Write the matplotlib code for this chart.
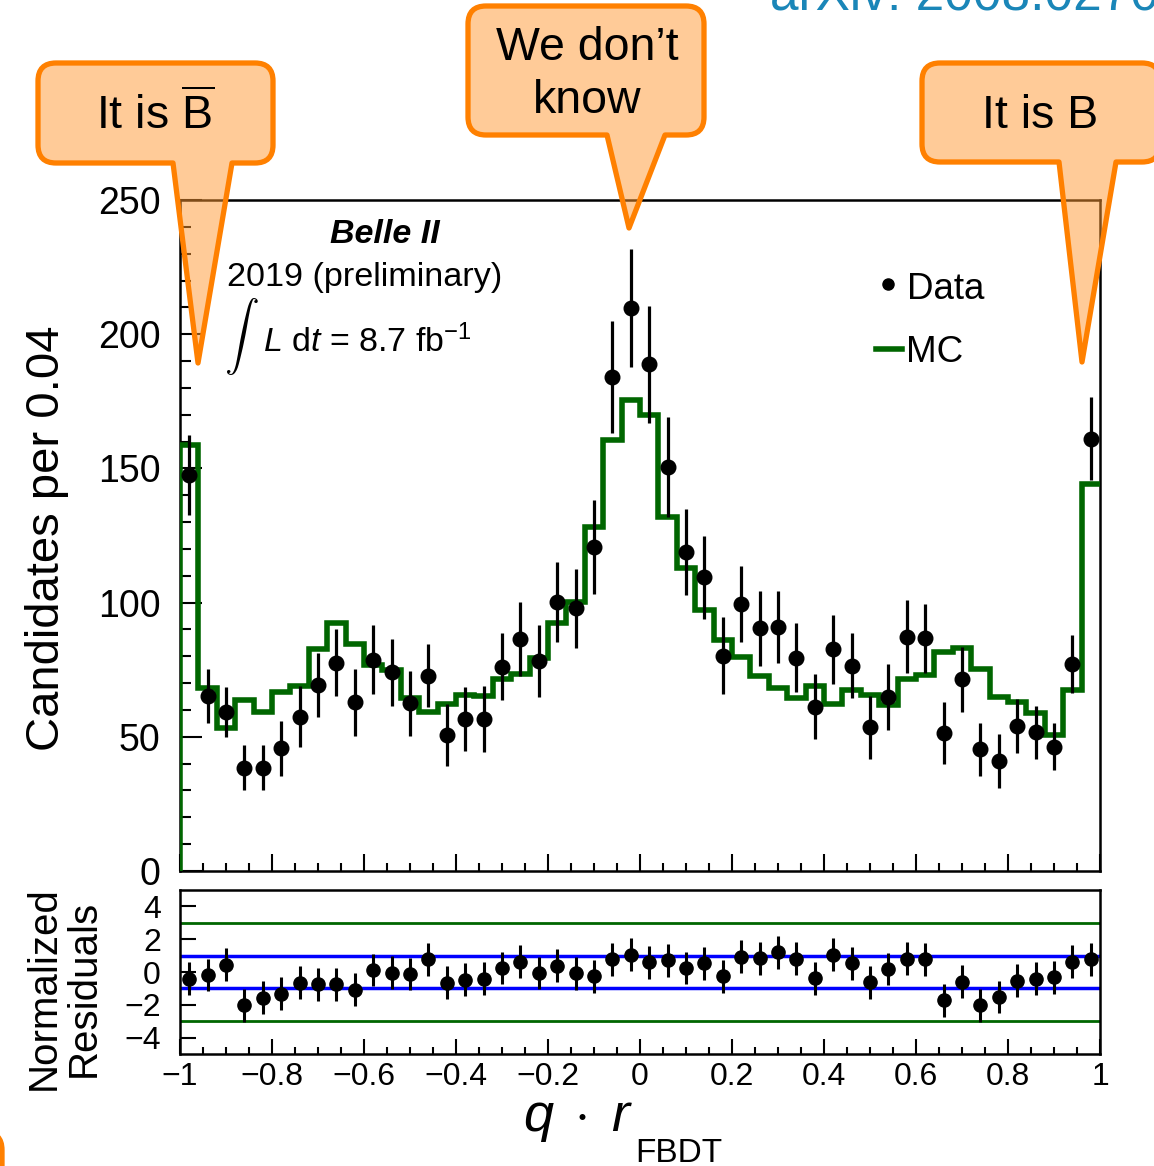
import matplotlib
matplotlib.use("Agg")
import matplotlib.pyplot as plt
import numpy as np
from matplotlib.lines import Line2D
from matplotlib.patches import PathPatch
from matplotlib.path import Path
from matplotlib.ticker import FuncFormatter, MultipleLocator

plt.rcParams["font.family"] = ["Liberation Sans", "DejaVu Sans"]
plt.rcParams["mathtext.fontset"] = "custom"
plt.rcParams["mathtext.rm"] = "Liberation Sans"
plt.rcParams["mathtext.it"] = "Liberation Sans:italic"
plt.rcParams["mathtext.bf"] = "Liberation Sans:bold"

# q*r_FBDT histogram, 50 bins of width 0.04 on [-1, 1]
bin_edges = np.linspace(-1.0, 1.0, 51)
bin_centers = 0.5 * (bin_edges[:-1] + bin_edges[1:])

data_counts = [147.5, 65.3, 59.1, 38.5, 38.5, 45.7, 57.5, 69.3, 77.6, 62.8,
               78.8, 74.0, 62.5, 72.8, 50.7, 56.6, 56.6, 76.1, 86.5, 78.2,
               100.2, 97.9, 120.8, 184.0, 209.6, 188.8, 150.5, 118.7, 109.4, 80.2,
               99.4, 90.4, 91.0, 79.5, 61.2, 82.6, 76.5, 53.5, 64.7, 87.3,
               86.7, 51.3, 71.5, 45.3, 41.0, 54.1, 51.7, 46.3, 77.1, 161.0]
data_err = [15.0, 10.1, 9.3, 8.3, 8.4, 10.2, 11.3, 11.8, 12.5, 12.6,
            12.7, 12.5, 12.1, 11.8, 11.5, 11.8, 12.2, 12.5, 13.8, 13.5,
            14.8, 14.7, 17.5, 20.9, 22.0, 21.7, 18.5, 16.0, 15.6, 14.3,
            14.2, 14.0, 13.4, 12.9, 12.2, 12.9, 12.2, 11.8, 12.3, 13.7,
            12.9, 11.5, 12.1, 9.8, 10.1, 10.1, 9.8, 8.7, 10.9, 15.5]
mc_counts = [158.7, 68.1, 53.2, 63.7, 59.1, 66.6, 69.1, 82.6, 92.3, 84.6,
             76.8, 74.9, 64.6, 59.1, 62.2, 65.6, 65.3, 71.5, 73.4, 79.2,
             92.3, 100.1, 128.3, 160.6, 175.5, 169.9, 132.0, 113.0, 97.2, 86.1,
             79.6, 72.8, 68.1, 64.3, 69.1, 62.4, 67.4, 65.6, 61.8, 71.5,
             73.0, 81.7, 83.2, 75.1, 64.9, 62.8, 58.7, 50.7, 67.4, 144.1]
residuals = [-0.42, -0.18, 0.44, -2.03, -1.57, -1.33, -0.66, -0.76, -0.76, -1.09,
             0.12, -0.04, -0.12, 0.78, -0.66, -0.46, -0.42, 0.24, 0.64, -0.06,
             0.38, -0.08, -0.26, 0.78, 1.05, 0.58, 0.72, 0.24, 0.54, -0.26,
             0.94, 0.84, 1.19, 0.82, -0.38, 1.05, 0.54, -0.62, 0.18, 0.82,
             0.78, -1.73, -0.58, -2.03, -1.53, -0.52, -0.42, -0.32, 0.64, 0.78]
residual_err = [1.0] * 50

W, H = 1154, 1166
GREEN = "#006600"
ORANGE = "#ff8000"
BUBBLE_FILL = (1.0, 0.6, 0.2, 0.5)


def fx(x):
    return x / W


def fy(y):
    return 1 - y / H


def bubble(fig, left, top, right, bottom, tail=None, r=18):
    # rounded box, optional pointer inserted in the bottom edge
    M, L, C, Z = Path.MOVETO, Path.LINETO, Path.CURVE3, Path.CLOSEPOLY
    pts = [(left + r, top), (right - r, top), (right, top), (right, top + r),
           (right, bottom - r), (right, bottom), (right - r, bottom)]
    codes = [M, L, C, C, L, C, C]
    if tail is not None:
        base_l, base_r, tip = tail
        pts += [(base_r, bottom), tip, (base_l, bottom)]
        codes += [L, L, L]
    pts += [(left + r, bottom), (left, bottom), (left, bottom - r),
            (left, top + r), (left, top), (left + r, top), (left + r, top)]
    codes += [L, C, C, L, C, C, Z]
    verts = [(fx(x), fy(y)) for x, y in pts]
    patch = PathPatch(Path(verts, codes), transform=fig.transFigure,
                      facecolor=BUBBLE_FILL, edgecolor=ORANGE, lw=3.8,
                      joinstyle="round", zorder=10)
    fig.add_artist(patch)


def minus_fmt(v, pos):
    v = round(v, 6)
    if v == 0:
        return "0"
    return f"{v:g}".replace("-", "\u2212")


fig = plt.figure(figsize=(W / 100, H / 100), dpi=100)
ax = fig.add_axes([fx(180), fy(871), 920 / W, 671 / H])
rax = fig.add_axes([fx(180), fy(1054), 920 / W, 164 / H])

# MC histogram outline, left side dropping to zero
xs = np.r_[bin_edges[0], np.repeat(bin_edges, 2)[1:-1]]
ys = np.r_[0, np.repeat(mc_counts, 2)]
ax.plot(xs, ys, color=GREEN, lw=4, solid_joinstyle="miter", zorder=3)
ax.errorbar(bin_centers, data_counts, yerr=data_err, fmt="o", color="black",
            ms=10.5, elinewidth=2.3, capsize=0, zorder=4)

ax.set_xlim(-1, 1)
ax.set_ylim(0, 250)
ax.xaxis.set_major_locator(MultipleLocator(0.2))
ax.xaxis.set_minor_locator(MultipleLocator(0.05))
ax.yaxis.set_major_locator(MultipleLocator(50))
ax.yaxis.set_minor_locator(MultipleLocator(10))
ax.tick_params(axis="y", which="major", direction="in", length=15.6, width=1.5,
               labelsize=27, pad=14)
ax.tick_params(axis="y", which="minor", direction="in", length=7.7, width=1.5)
ax.tick_params(axis="x", which="major", direction="in", length=12, width=1.5,
               labelbottom=False)
ax.tick_params(axis="x", which="minor", direction="in", length=6, width=1.5)

# residual panel
rax.axhline(3, color=GREEN, lw=2)
rax.axhline(-3, color=GREEN, lw=2)
rax.axhline(1, color="#0000ff", lw=2.5)
rax.axhline(-1, color="#0000ff", lw=2.5)
rax.errorbar(bin_centers, residuals, yerr=residual_err, fmt="o", color="black",
             ms=9.5, elinewidth=2.2, capsize=0, zorder=4)
rax.set_xlim(-1, 1)
rax.set_ylim(-5, 5)
rax.xaxis.set_major_locator(MultipleLocator(0.2))
rax.xaxis.set_minor_locator(MultipleLocator(0.05))
rax.yaxis.set_major_locator(MultipleLocator(2))
rax.xaxis.set_major_formatter(FuncFormatter(minus_fmt))
rax.yaxis.set_major_formatter(FuncFormatter(minus_fmt))
rax.tick_params(axis="y", which="major", direction="in", length=11.5, width=1.5,
                labelsize=23, pad=13.7)
rax.tick_params(axis="x", which="major", direction="in", length=10.8, width=1.5,
                labelsize=23, pad=6)
rax.tick_params(axis="x", which="minor", direction="in", length=5, width=1.5)

for a in (ax, rax):
    for s in a.spines.values():
        s.set_linewidth(1.8)

# axis titles
fig.text(fx(47), fy(538), "Candidates per 0.04", rotation=90, ha="center",
         va="center", fontsize=34)
fig.text(fx(64), fy(988), "Normalized\nResiduals", rotation=90, ha="center",
         va="center", fontsize=29, linespacing=1.05, multialignment="center")
fig.text(fx(633), fy(1131), r"$q\;\cdot\;r$", ha="right", va="baseline",
         fontsize=39)
fig.text(fx(635), fy(1162), "FBDT", ha="left", va="baseline", fontsize=24)

# experiment label
fig.text(fx(385), fy(243), "Belle II", weight="bold", style="italic",
         fontsize=24.5, ha="center", va="baseline")
fig.text(fx(227), fy(286), "2019 (preliminary)", fontsize=24.6, va="baseline")
fig.text(fx(224), fy(377), r"$\int$", math_fontfamily="cm", fontsize=25,
         va="bottom")
fig.text(fx(263), fy(352), r"$L$ d$t$ = 8.7 fb$^{-1}$", fontsize=24.5,
         va="baseline")

# legend
fig.add_artist(Line2D([fx(888)], [fy(284)], marker="o", ms=8, color="black",
                      transform=fig.transFigure))
fig.text(fx(907), fy(299), "Data", fontsize=26.5, va="baseline")
fig.add_artist(Line2D([fx(876), fx(902)], [fy(349), fy(349)], lw=4, color=GREEN,
                      transform=fig.transFigure))
fig.text(fx(906), fy(362), "MC", fontsize=26.5, va="baseline")

# speech bubbles
bubble(fig, 38, 63, 273, 163, tail=(173, 232, (198, 363)))
bubble(fig, 468, 6, 704, 135, tail=(607, 665, (629, 228)))
bubble(fig, 922, 63, 1160, 162, tail=(1059, 1116, (1082, 362)))
bubble(fig, -300, 1132, 2, 1400)

fig.text(fx(155), fy(130), r"It is $\overline{\mathrm{B}}$", fontsize=33.5,
         ha="center", va="baseline", zorder=11)
fig.text(fx(587), fy(60), "We don\u2019t", fontsize=33.5, ha="center",
         va="baseline", zorder=11)
fig.text(fx(587), fy(113), "know", fontsize=33.5, ha="center", va="baseline",
         zorder=11)
fig.text(fx(1040), fy(128), "It is B", fontsize=33.5, ha="center",
         va="baseline", zorder=11)

fig.text(fx(770), fy(10), "arXiv: 2008.02707", color="#1a86b8", fontsize=37,
         va="baseline")

fig.savefig("out.png", dpi=100)
